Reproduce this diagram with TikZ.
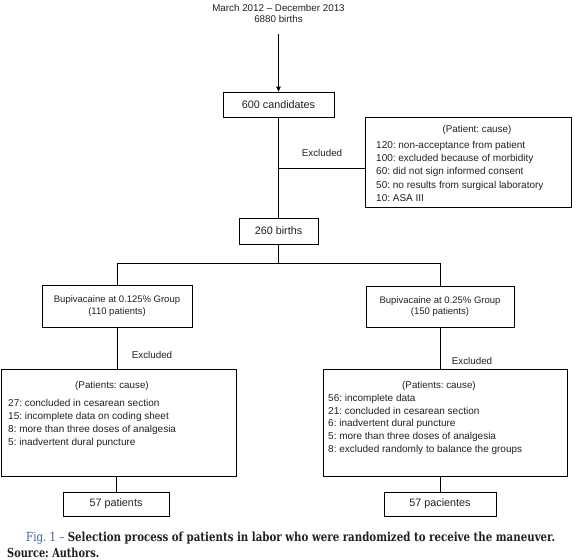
\documentclass[tikz,border=0pt]{standalone}
\usepackage{fontspec}
\setmainfont{Liberation Sans}
\newfontfamily\capfont[Ligatures=TeX]{DejaVu Serif}
\usetikzlibrary{arrows.meta}
\definecolor{figblue}{RGB}{60,92,162}
\definecolor{ink}{RGB}{35,31,32}
\frenchspacing
\begin{document}
\begin{tikzpicture}[x=1pt,y=-1pt,
  every node/.style={text=ink},
  line/.style={draw=black,line width=0.8pt},
  box/.style={draw=black,line width=0.8pt,inner sep=0pt},
  big/.style={font=\fontsize{10.8}{13}\selectfont},
  grp/.style={font=\fontsize{9.5}{11.5}\selectfont,align=center},
  lbl/.style={font=\fontsize{9.8}{12}\selectfont,inner sep=0pt},
  lst/.style={align=left,inner sep=0pt,anchor=north west},
  arr/.style={line,-{Triangle[length=5pt,width=4.5pt]}}]
\useasboundingbox (0,0) rectangle (579,560);

% top text and arrow
\node[lbl,align=center,anchor=north,font=\fontsize{9.8}{11}\selectfont] (top) at (278.5,4.6) {March 2012 \textendash{} December 2013\\6880 births};
\coordinate (a0) at (278.5,34);
\node[box,big,minimum width=111pt,minimum height=25pt] (cand) at (278.5,104.5) {600 candidates};
\draw[arr] (a0) -- (cand.north);

% first exclusion
\node[box,minimum width=206pt,minimum height=90pt] (ex1) at (468,162) {};
\node[lbl,anchor=base] (ex1h) at (477,132.5) {(Patient: cause)};
\node[lst,font=\fontsize{10}{13.1}\selectfont] (ex1t) at (376,141.3) {120: non-acceptance from patient\\100: excluded because of morbidity\\60: did not sign informed consent\\50: no results from surgical laboratory\\10: ASA III};
\node[lbl,anchor=base] (exl1) at (322,156.5) {Excluded};

\node[box,big,minimum width=79pt,minimum height=26pt] (births) at (278.5,231) {260 births};
\draw[line] (cand.south) -- (births.north);
\coordinate (j1) at (278.5,168);
\draw[line] (j1) -- (j1 -| ex1.west);

% split
\coordinate (j2) at (278.5,263.5);
\node[box,grp,minimum width=150pt,minimum height=42pt] (g1) at (117,306) {Bupivacaine at 0.125\% Group\\(110 patients)};
\node[box,grp,minimum width=148pt,minimum height=41pt] (g2) at (440,306.5) {Bupivacaine at 0.25\% Group\\(150 patients)};
\draw[line] (births.south) -- (j2);
\draw[line] (g1.north) |- (j2) -| (g2.north);

% left exclusion
\node[lbl,anchor=base] (exl2) at (152,358) {Excluded};
\node[box,minimum width=235pt,minimum height=107pt] (ex2) at (118.5,422.5) {};
\node[lbl,anchor=base] (ex2h) at (112,388) {(Patients: cause)};
\node[lst,font=\fontsize{10}{12.8}\selectfont] (ex2t) at (8,399.2) {27: concluded in cesarean section\\15: incomplete data on coding sheet\\8: more than three doses of analgesia\\5: inadvertent dural puncture};
\draw[line] (g1.south) -- (ex2.north -| g1.south);

% right exclusion
\node[lbl,anchor=base] (exl3) at (472,364) {Excluded};
\node[box,minimum width=244pt,minimum height=107pt] (ex3) at (445,422.5) {};
\node[lbl,anchor=base] (ex3h) at (439,388) {(Patients: cause)};
\node[lst,font=\fontsize{10}{12.75}\selectfont] (ex3t) at (328,393.8) {56: incomplete data\\21: concluded in cesarean section\\6: inadvertent dural puncture\\5: more than three doses of analgesia\\8: excluded randomly to balance the groups};
\draw[line] (g2.south) -- (ex3.north -| g2.south);

% results
\node[box,big,minimum width=106pt,minimum height=24pt] (p1) at (116,504) {57 patients};
\node[box,big,minimum width=112pt,minimum height=24pt] (p2) at (440,504) {57 pacientes};
\draw[line] (ex2.south -| p1.north) -- (p1.north);
\draw[line] (ex3.south -| p2.north) -- (p2.north);

% caption
\node[anchor=base west,inner sep=0pt] (cap) at (26,541) {\resizebox{529pt}{9.5pt}{\capfont{\color{figblue}Fig. 1 \textendash} \textbf{\color{ink}Selection process of patients in labor who were randomized to receive the maneuver.}}};
\node[anchor=base west,inner sep=0pt] (src) at (7,557) {\resizebox{92pt}{9.5pt}{\capfont\bfseries\color{ink}Source: Authors.}};
\end{tikzpicture}
\end{document}
